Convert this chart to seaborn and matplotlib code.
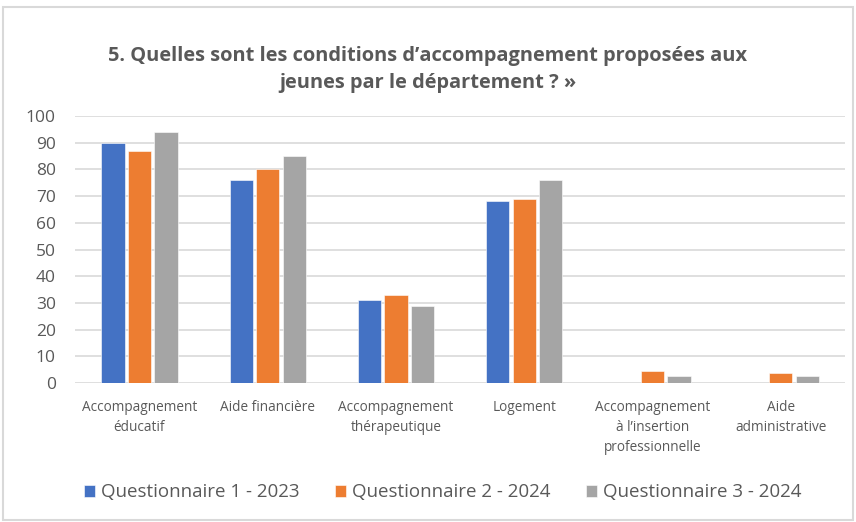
import numpy as np
import pandas as pd
import matplotlib
matplotlib.use("Agg")
import matplotlib.pyplot as plt
import seaborn as sns
from matplotlib.patches import Rectangle

categories = ["Accompagnement\néducatif", "Aide financière", "Accompagnement\nthérapeutique",
              "Logement", "Accompagnement\nà l\u2019insertion\nprofessionnelle", "Aide\nadministrative"]
series = ["Questionnaire 1 - 2023", "Questionnaire 2 - 2024", "Questionnaire 3 - 2024"]
q1_2023 = [90, 76, 31, 68, 0, 0]
q2_2024 = [87, 80, 33, 69, 4.5, 3.8]
q3_2024 = [94, 85, 29, 76, 2.8, 2.8]
colors = ["#4472C4", "#ED7D31", "#A5A5A5"]

rows = []
for name, vals in zip(series, [q1_2023, q2_2024, q3_2024]):
    for cat, v in zip(categories, vals):
        rows.append({"cat": cat, "serie": name, "val": v})
df = pd.DataFrame(rows)

sns.set_style("white")
plt.rcParams["font.family"] = ["Open Sans", "DejaVu Sans"]
txt = "#595959"

fig = plt.figure(figsize=(8.56, 5.22), dpi=100)
ax = fig.add_axes([0.088, 0.266, 0.899, 0.512])

sns.barplot(data=df, x="cat", y="val", hue="serie", palette=colors, ax=ax,
            width=0.62, gap=0.12, saturation=1, edgecolor="white", linewidth=0.4)

ax.set_ylim(0, 100)
ax.set_yticks(range(0, 101, 10))
ax.yaxis.grid(True, color="#D9D9D9", linewidth=1.2)
ax.set_axisbelow(True)
for s in ax.spines.values():
    s.set_visible(False)
ax.set_xlabel("")
ax.set_ylabel("")
ax.tick_params(axis="y", labelsize=12.5, colors=txt, length=0, pad=14)
ax.tick_params(axis="x", labelsize=9.8, colors=txt, length=0, pad=12)
for lab in ax.get_xticklabels():
    lab.set_verticalalignment("top")
    lab.set_multialignment("center")
    lab.set_linespacing(1.45)

fig.suptitle("5. Quelles sont les conditions d\u2019accompagnement proposées aux\njeunes par le département ? »",
             x=0.5, y=0.912, fontsize=14.4, fontweight="bold", color=txt, linespacing=1.45)

handles, labels = ax.get_legend_handles_labels()
ax.legend(handles, labels, loc="center", bbox_to_anchor=(0.517, 0.057), bbox_transform=fig.transFigure,
          ncol=3, frameon=False, fontsize=13.5, labelcolor=txt, handlelength=0.6, handleheight=0.6,
          handletextpad=0.3, columnspacing=1.9)

fig.patches.append(Rectangle((0.004, 0.004), 0.992, 0.982, transform=fig.transFigure,
                             fill=False, edgecolor="#D9D9D9", linewidth=1.5))

fig.savefig("out.png", dpi=100, facecolor="white")
